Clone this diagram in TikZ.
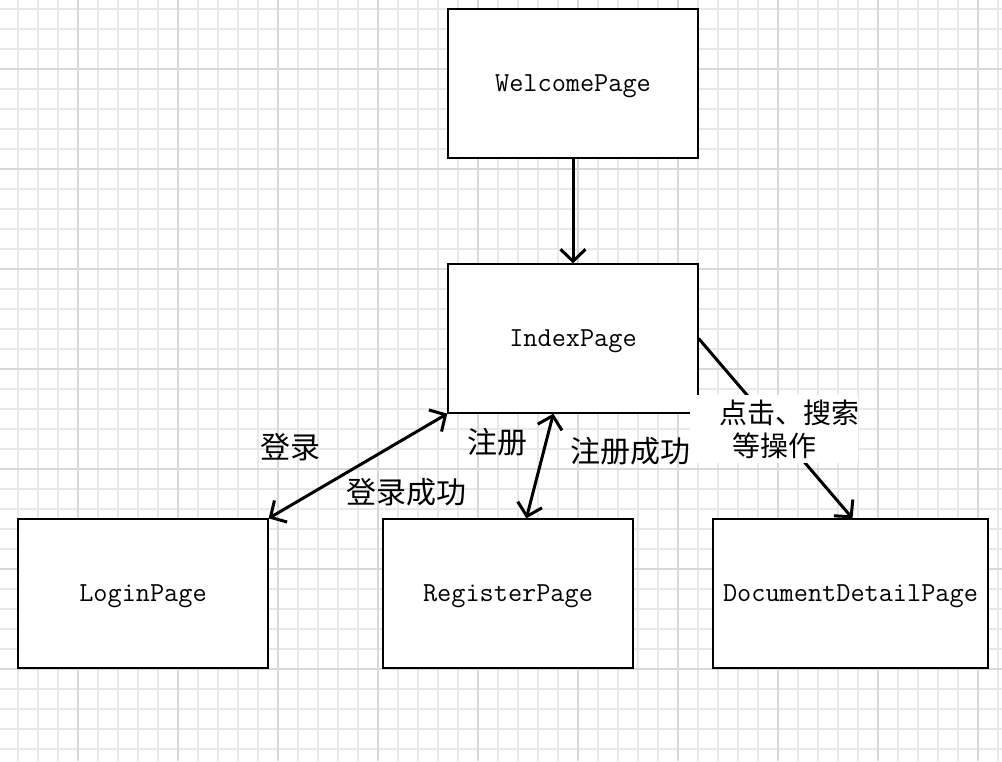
\documentclass[tikz,border=0pt]{standalone}
\usepackage{fontspec}
\newfontfamily\cjk{Noto Sans CJK SC}
\usetikzlibrary{arrows.meta}
\definecolor{gridminor}{HTML}{E8E8E8}
\definecolor{gridmajor}{HTML}{D8D8D8}
\tikzset{
  minorline/.style={draw=gridminor, line width=2pt},
  majorline/.style={draw=gridmajor, line width=2pt},
  pagebox/.style={draw=black, fill=white, line width=1.3pt, minimum width=250pt, minimum height=149pt, inner sep=0pt, text depth=0pt, font=\ttfamily\fontsize{27.5}{30}\selectfont},
  flow/.style={line width=3pt, -{Straight Barb[length=12pt,width=25pt]}},
  bothflow/.style={line width=3pt, {Straight Barb[length=12pt,width=25pt]}-{Straight Barb[length=12pt,width=25pt]}},
  edgelbl/.style={inner sep=0pt, font=\cjk\fontsize{30}{34}\selectfont},
  oplbl/.style={fill=white, inner sep=0pt, text width=168pt, minimum height=68pt, align=left, font=\cjk\fontsize{28}{33}\selectfont}
}
\begin{document}
\begin{tikzpicture}[x=1pt,y=-1pt]
\useasboundingbox (0,0) rectangle (1002,761);
\fill[white] (0,0) rectangle (1002,761);
% grid
\foreach \x in {18,38,...,998} \draw[minorline] (\x,0) -- (\x,761);
\foreach \y in {9,29,...,749} \draw[minorline] (0,\y) -- (1002,\y);
\foreach \x in {78,178,...,978} \draw[majorline] (\x,0) -- (\x,761);
\foreach \y in {69,169,...,669} \draw[majorline] (0,\y) -- (1002,\y);
% boxes
\node[pagebox] (welcome) at (573,83.5) {WelcomePage};
\node[pagebox] (index) at (573,338.5) {IndexPage};
\node[pagebox] (login) at (143,593.5) {LoginPage};
\node[pagebox] (register) at (508,593.5) {RegisterPage};
\node[pagebox, minimum width=275pt] (detail) at (850.5,593.5) {DocumentDetailPage};
% connectors
\draw[flow] (welcome.south) -- (index.north);
\draw[bothflow] (login.north east) -- (index.south west);
\draw[bothflow] ([xshift=144pt]register.north west) -- ([xshift=106pt]index.south west);
\draw[flow] (index.east) -- ([xshift=2pt]detail.north);
% labels
\node[edgelbl] (l1) at (290,447) {登录};
\node[edgelbl] (l2) at (406,492) {登录成功};
\node[edgelbl] (l3) at (497,442) {注册};
\node[edgelbl] (l4) at (630,451) {注册成功};
\node[oplbl] (ops) at (774,429) {\hspace*{29pt}点击、搜索\\\hspace*{42pt}等操作};
\end{tikzpicture}
\end{document}
